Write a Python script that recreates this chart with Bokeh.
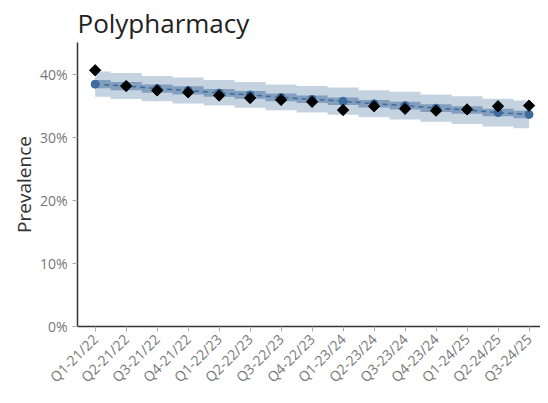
import math
from bokeh.plotting import figure
from bokeh.models import Range1d, FixedTicker, NumeralTickFormatter
from bokeh.embed import file_html
from bokeh.resources import INLINE

categories = ["Q1-21/22", "Q2-21/22", "Q3-21/22", "Q4-21/22", "Q1-22/23", "Q2-22/23",
              "Q3-22/23", "Q4-22/23", "Q1-23/24", "Q2-23/24", "Q3-23/24", "Q4-23/24",
              "Q1-24/25", "Q2-24/25", "Q3-24/25"]
observed = [40.6, 38.1, 37.4, 37.1, 36.6, 36.2, 35.9, 35.6, 34.3, 34.9, 34.5, 34.2, 34.4, 34.9, 35.0]
fitted = [38.4, 38.1, 37.7, 37.4, 37.0, 36.7, 36.3, 36.0, 35.7, 35.3, 35.0, 34.6, 34.3, 33.9, 33.6]
inner_low = [37.75, 37.45, 37.05, 36.75, 36.4, 36.1, 35.7, 35.4, 35.1, 34.7, 34.4, 34.0, 33.7, 33.3, 33.0]
inner_high = [39.05, 38.75, 38.35, 38.05, 37.65, 37.3, 36.9, 36.6, 36.3, 35.9, 35.6, 35.2, 34.9, 34.5, 34.2]
outer_low = [36.4, 36.05, 35.7, 35.35, 35.0, 34.65, 34.25, 33.9, 33.55, 33.15, 32.8, 32.45, 32.1, 31.7, 31.4]
outer_high = [40.4, 40.15, 39.7, 39.45, 39.05, 38.75, 38.35, 38.1, 37.85, 37.45, 37.2, 36.75, 36.5, 36.1, 35.8]
y_ticks = [0, 10, 20, 30, 40]

xs = list(range(len(categories)))
to_frac = lambda v: [a / 100 for a in v]

FONT = "Open Sans"

p = figure(width=540, height=395, output_backend="svg", toolbar_location=None,
           x_range=Range1d(-0.57, 14.37), y_range=Range1d(0, 0.45),
           min_border_left=77, min_border_right=0, min_border_top=37, min_border_bottom=68)

p.varea_step(x=xs, y1=to_frac(outer_low), y2=to_frac(outer_high), step_mode="center",
             fill_color="#c5d3e1")
p.varea_step(x=xs, y1=to_frac(inner_low), y2=to_frac(inner_high), step_mode="center",
             fill_color="#839fbd")
p.line(xs, to_frac(fitted), line_color="#3b6b9b", line_width=1.5, line_dash="5 4")
p.scatter(xs, to_frac(fitted), marker="circle", size=8, fill_color="#3d6c9c", line_color="#3d6c9c")
p.scatter(xs, to_frac(observed), marker="square", angle=math.pi / 4, size=8,
          fill_color="black", line_color="black")

p.title.text = "Polypharmacy"
p.title.text_font = FONT
p.title.text_font_size = "26px"
p.title.text_font_style = "normal"
p.title.text_color = "#222222"
p.title.offset = 0
p.title.standoff = 4

p.xgrid.visible = False
p.ygrid.visible = False
p.outline_line_color = None

xa = p.xaxis[0]
xa.ticker = FixedTicker(ticks=xs)
xa.major_label_overrides = {i: c for i, c in enumerate(categories)}
xa.major_label_orientation = math.pi / 4
xa.minor_tick_line_color = None
xa.axis_line_color = "#333333"
xa.axis_line_width = 1.5
xa.major_tick_line_color = "#aaaaaa"
xa.major_tick_in = 0
xa.major_tick_out = 5
xa.major_label_text_font = FONT
xa.major_label_text_font_size = "14px"
xa.major_label_text_color = "#777777"

ya = p.yaxis[0]
ya.ticker = FixedTicker(ticks=[t / 100 for t in y_ticks])
ya.formatter = NumeralTickFormatter(format="0%")
ya.minor_tick_line_color = None
ya.axis_line_color = "#333333"
ya.axis_line_width = 1.5
ya.major_tick_line_color = "#aaaaaa"
ya.major_tick_in = 0
ya.major_tick_out = 5
ya.major_label_text_font = FONT
ya.major_label_text_font_size = "14px"
ya.major_label_text_color = "#777777"
ya.axis_label = "Prevalence"
ya.axis_label_text_font = FONT
ya.axis_label_text_font_size = "19px"
ya.axis_label_text_font_style = "normal"
ya.axis_label_text_color = "#333333"
ya.axis_label_standoff = 0

open("out.html", "w").write(file_html(p, INLINE))
